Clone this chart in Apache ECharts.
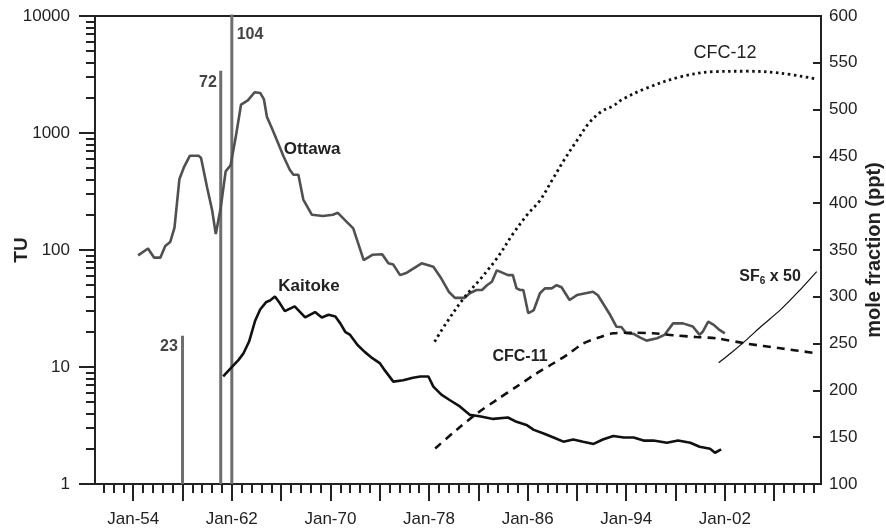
<!DOCTYPE html>
<html>
<head>
<meta charset="utf-8">
<script src="https://cdn.jsdelivr.net/npm/echarts@6/dist/echarts.min.js"></script>
<style>
html,body{margin:0;padding:0;background:#fff;}
#chart{width:886px;height:529px;}
</style>
</head>
<body>
<div id="chart"></div>
<script>
// ---- data ----
var ottawaYears = [1954.4,1955.2,1955.7,1956.2,1956.6,1957.0,1957.35,1957.75,1958.1,1958.6,1959.3,1959.5,1960.0,1960.4,1960.7,1961.1,1961.5,1961.9,1962.3,1962.75,1963.3,1963.85,1964.3,1964.6,1964.85,1965.2,1965.65,1966.2,1966.7,1967.0,1967.4,1967.8,1968.5,1969.4,1970.2,1970.6,1971.3,1971.85,1972.7,1973.4,1974.2,1974.7,1975.1,1975.65,1976.2,1977.4,1978.35,1979.0,1979.6,1980.1,1980.9,1981.3,1981.85,1982.3,1982.7,1983.1,1983.5,1983.8,1984.4,1984.8,1985.1,1985.4,1985.65,1986.05,1986.5,1987.0,1987.4,1987.95,1988.35,1988.75,1989.4,1990.0,1990.7,1991.3,1991.7,1992.7,1993.2,1993.6,1994.0,1994.6,1995.1,1995.65,1996.5,1997.1,1997.8,1998.6,1999.4,1999.95,2000.2,2000.65,2001.1,2001.5,2002.0];
var ottawaTU = [90,103,86,86,108,117,155,405,505,640,640,615,340,220,137,230,470,530,900,1750,1900,2230,2200,1950,1370,1130,870,630,485,440,440,270,200,195,200,208,175,153,82,91,92,77,75,61,64,77,72,57,44,39,39,42.7,45.5,45.5,50,53.6,67,65,61,61,47,45.5,45.5,28.8,30.7,42.7,47,47,50,48,37.4,41.2,42.7,44,41,27.8,22.1,22,19.4,19.2,17.9,16.8,17.6,18.8,23.6,23.6,22.2,18.8,20,24.4,22.9,21,19.4];

var kaitokeYears = [1961.3,1961.9,1962.55,1962.95,1963.4,1963.9,1964.3,1964.8,1965.1,1965.5,1965.9,1966.3,1967.1,1967.95,1968.75,1969.3,1969.85,1970.4,1970.8,1971.2,1971.6,1972.2,1972.8,1973.4,1974.0,1974.4,1975.1,1975.9,1976.7,1977.3,1977.95,1978.35,1979.0,1979.7,1980.5,1981.3,1982.1,1983.2,1984.4,1985.1,1985.9,1986.5,1987.3,1988.1,1988.9,1989.7,1990.5,1991.35,1992.1,1992.95,1993.8,1994.6,1995.4,1996.2,1997.3,1998.2,1999.2,1999.95,2000.8,2001.2,2001.7];
var kaitokeTU = [8.3,9.75,11.5,13.1,16.5,25,31,36,37,40,35,30,33,26.5,29.5,26.5,28,27,23.6,20,18.8,15.4,13.4,11.9,10.8,9.4,7.5,7.7,8.1,8.3,8.3,6.8,5.8,5.2,4.6,3.9,3.8,3.6,3.7,3.4,3.2,2.9,2.7,2.5,2.3,2.4,2.3,2.2,2.4,2.57,2.5,2.5,2.35,2.35,2.25,2.35,2.25,2.08,2.0,1.85,1.98];

var cfc12Years = [1978.45,1979.4,1980.9,1982.1,1983.5,1984.85,1986.05,1987.0,1988.0,1989.0,1990.0,1991.0,1992.0,1992.95,1993.7,1995.65,1998.4,2001.1,2003.8,2006.5,2009.3];
var cfc12Ppt = [252,272,300,318,341,368,389,403,425,447,467,486,498,504,511,523,535,540.5,541,539,533];

var cfc11Years = [1978.5,1980.25,1981.9,1983.5,1985.1,1986.7,1988.1,1989.2,1990.5,1991.9,1992.95,1994.6,1996.2,1997.8,1999.7,2001.3,2003.75,2006.5,2009.45];
var cfc11Ppt = [138,158,175.5,190,204,218,229,238,250,257,261,261.6,261,259,257,255.7,250,245,239.6];

var sf6Years = [2001.5,2002.5,2003.75,2005,2006.5,2008,2009.45];
var sf6x50Ppt = [229.6,240,254,269,286,306,327];

var spikeYears = [1958.0,1961.1,1962.0];
var spikeTU = [18.5,3400,10400];
var spikeLabels = ['23','72','104'];

var xMajorTicks = [1954,1958,1962,1966,1970,1974,1978,1982,1986,1990,1994,1998,2002,2006];
var xLabelYears = [1954,1962,1970,1978,1986,1994,2002];
var xMinorTicks = [];
xMajorTicks.concat([1950]).forEach(function(m){ for (var k=1;k<5;k++){ var v=+(m+k*0.8).toFixed(2); if (v>1950.9 && v<2009.8 && xMajorTicks.indexOf(v)<0) xMinorTicks.push(v);} });
var yMajorTicks = [1,10,100,1000,10000];
var yMinorTicks = [];
[1,10,100,1000].forEach(function(d){ for (var k=2;k<10;k++) yMinorTicks.push(d*k); });

function pairs(xs, ys){ return xs.map(function(x,i){ return [x, ys[i]]; }); }

// ---- chart ----
var chart = echarts.init(document.getElementById('chart'), null, {renderer:'canvas'});
var FONT = '"Liberation Sans", Arial, sans-serif';
var AX = '#222';

var series = [];
spikeYears.forEach(function(yr, i){
  series.push({
    type:'line', xAxisIndex:0, yAxisIndex:0, symbol:'none', silent:true, clip:true,
    data:[[yr,1],[yr,spikeTU[i]]],
    lineStyle:{color:'#6e6e6e', width:3}, z:2
  });
});
series.push({
  name:'Ottawa', type:'line', xAxisIndex:0, yAxisIndex:0, symbol:'none',
  data:pairs(ottawaYears, ottawaTU), lineStyle:{color:'#505050', width:2.6}, z:3
});
series.push({
  name:'Kaitoke', type:'line', xAxisIndex:0, yAxisIndex:0, symbol:'none',
  data:pairs(kaitokeYears, kaitokeTU), lineStyle:{color:'#111', width:2.6}, z:3
});
series.push({
  name:'CFC-12', type:'line', xAxisIndex:0, yAxisIndex:2, symbol:'none', smooth:0.35,
  data:pairs(cfc12Years, cfc12Ppt), lineStyle:{color:'#111', width:2.8, type:[2.5,3.5]}, z:3
});
series.push({
  name:'CFC-11', type:'line', xAxisIndex:0, yAxisIndex:2, symbol:'none', smooth:0.3,
  data:pairs(cfc11Years, cfc11Ppt), lineStyle:{color:'#111', width:2.6, type:[8,6]}, z:3
});
series.push({
  name:'SF6 x 50', type:'line', xAxisIndex:0, yAxisIndex:2, symbol:'none', smooth:0.2,
  data:pairs(sf6Years, sf6x50Ppt), lineStyle:{color:'#111', width:1.2}, z:3
});

function txt(x, y, text, font, fill, extra){
  var o = {type:'text', x:x, y:y, z:10, style:{text:text, font:font, fill:fill || '#222', align:'center', verticalAlign:'middle'}};
  if (extra) for (var k in extra) o[k]=extra[k];
  return o;
}

var option = {
  animation:false,
  backgroundColor:'#fff',
  grid:{left:95, right:65, top:16, bottom:45, show:true, borderColor:AX, borderWidth:2, backgroundColor:'transparent'},
  xAxis:[
    {type:'value', min:1950.9, max:2009.8, position:'bottom',
     axisLine:{show:true, onZero:false, lineStyle:{color:AX, width:2}},
     axisTick:{show:true, customValues:xMajorTicks, length:17, lineStyle:{color:AX, width:2}},
     axisLabel:{customValues:xLabelYears, margin:27, color:'#222', fontSize:17, fontFamily:FONT,
       formatter:function(v){ return 'Jan-' + String(Math.round(v)).slice(2); }},
     splitLine:{show:false}},
    {type:'value', min:1950.9, max:2009.8, position:'bottom',
     axisLine:{show:false, onZero:false},
     axisTick:{show:true, customValues:xMinorTicks, length:9, lineStyle:{color:AX, width:2}},
     axisLabel:{show:false}, splitLine:{show:false}}
  ],
  yAxis:[
    {type:'log', logBase:10, min:1, max:10000, position:'left',
     axisLine:{show:true, onZero:false, lineStyle:{color:AX, width:2}},
     axisTick:{show:true, customValues:yMajorTicks, length:16, lineStyle:{color:AX, width:2}},
     axisLabel:{customValues:yMajorTicks, margin:25, color:'#222', fontSize:17, fontFamily:FONT,
       formatter:function(v){ return String(Math.round(v)); }},
     splitLine:{show:false}},
    {type:'log', logBase:10, min:1, max:10000, position:'left',
     axisLine:{show:false, onZero:false},
     axisTick:{show:true, customValues:yMinorTicks, length:9, lineStyle:{color:AX, width:2}},
     axisLabel:{show:false}, splitLine:{show:false}},
    {type:'value', min:100, max:600, interval:50, position:'right',
     axisLine:{show:true, onZero:false, lineStyle:{color:AX, width:2}},
     axisTick:{show:true, inside:true, length:8, lineStyle:{color:AX, width:2}},
     axisLabel:{margin:8, color:'#222', fontSize:17, fontFamily:FONT},
     splitLine:{show:false}}
  ],
  series:series,
  graphic:[
    txt(169,347,spikeLabels[0],'bold 16px '+FONT,'#444'),
    txt(208,83,spikeLabels[1],'bold 16px '+FONT,'#444'),
    txt(250,35,spikeLabels[2],'bold 16px '+FONT,'#444'),
    txt(312,149,'Ottawa','bold 17px '+FONT),
    txt(309,286,'Kaitoke','bold 17px '+FONT),
    txt(725,53,'CFC-12','18px '+FONT),
    txt(520,357,'CFC-11','bold 16px '+FONT),
    {type:'text', x:770, y:277, z:10, style:{
      text:'{a|SF}{s|6}{a| x 50}', align:'center', verticalAlign:'middle',
      rich:{a:{font:'bold 16px '+FONT, fill:'#222'}, s:{font:'bold 10px '+FONT, fill:'#222', padding:[8,0,0,0]}}}},
    txt(22,250,'TU','bold 19px '+FONT,'#222',{rotation:Math.PI/2}),
    txt(874,250,'mole fraction (ppt)','bold 20px '+FONT,'#222',{rotation:Math.PI/2})
  ]
};
chart.setOption(option);
</script>
</body>
</html>
